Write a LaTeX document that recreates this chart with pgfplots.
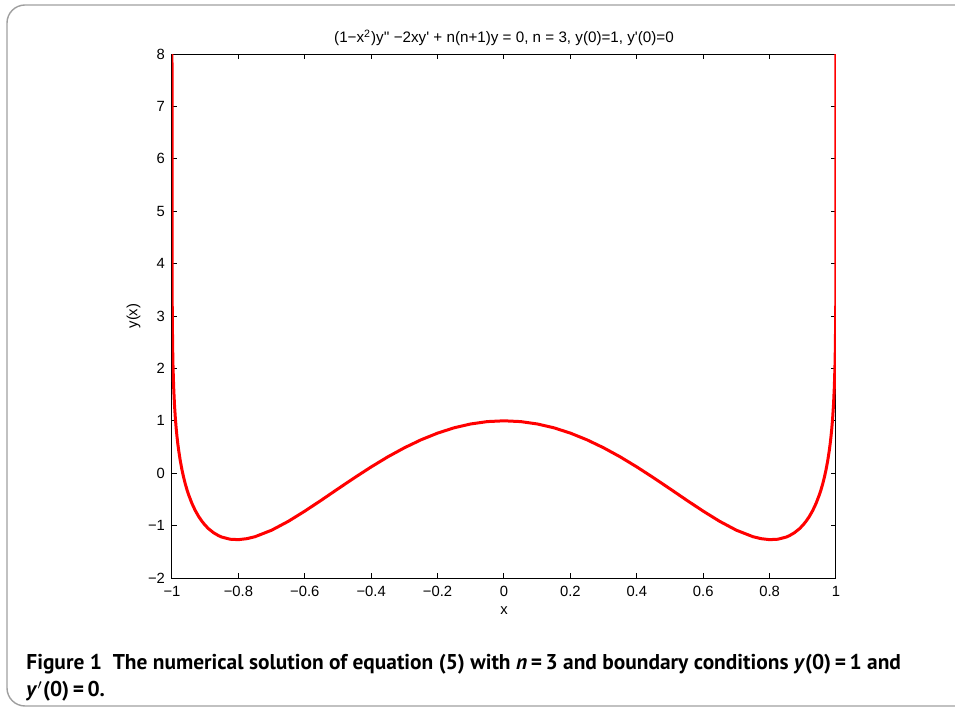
\documentclass[border=0pt]{standalone}
\usepackage{fontspec}
\setmainfont{Liberation Sans}[Ligatures=TeXOff]
\newfontfamily\capfont{PT Sans}
\usepackage{pgfplots}
\pgfplotsset{compat=1.18}
\begin{document}
\begin{tikzpicture}[x=1pt,y=1pt]
\useasboundingbox (0,0) rectangle (477.5,354);
\begin{scope}
\clip (0,0) rectangle (477.5,354);
\draw[gray!75, line width=0.7pt, rounded corners=9pt] (3.5,1) rectangle (495,351.5);
\end{scope}
\begin{axis}[
  at={(86pt,65pt)}, anchor=south west,
  scale only axis, width=332pt, height=262pt,
  xmin=-1, xmax=1, ymin=-2, ymax=8,
  xtick={-1,-0.8,-0.6,-0.4,-0.2,0,0.2,0.4,0.6,0.8,1},
  xticklabels={−1,−0.8,−0.6,−0.4,−0.2,0,0.2,0.4,0.6,0.8,1},
  ytick={-2,-1,0,1,2,3,4,5,6,7,8},
  yticklabels={−2,−1,0,1,2,3,4,5,6,7,8},
  tick align=inside, major tick length=2.5pt,
  xtick pos=both, ytick pos=both,
  axis line style={line width=0.5pt},
  every tick/.style={black, line width=0.5pt},
  tick label style={font=\fontsize{7.4}{9}\selectfont},
  xticklabel style={yshift=-0.5pt},
  xlabel={x}, ylabel={y(x)},
  every axis x label/.style={at={(axis description cs:0.5,-0.063)}, anchor=center, font=\fontsize{7.4}{9}\selectfont},
  every axis y label/.style={at={(axis description cs:-0.058,0.5)}, rotate=90, anchor=center, font=\fontsize{7.4}{9}\selectfont},
  title={(1−x\textsuperscript{2})y'' −2xy' + n(n+1)y = 0, n = 3, y(0)=1, y'(0)=0},
  every axis title/.style={font=\fontsize{7.6}{9}\selectfont, at={(axis description cs:0.5,1.031)}, anchor=center},
  clip=true,
]
\addplot[red, line width=1.5pt, line join=round] coordinates {
(-0.999999,8.131) (-0.99999,6.404) (-0.9999,4.674) (-0.9995,3.455) (-0.999,2.924)
(-0.998,2.383) (-0.997,2.061) (-0.995,1.645) (-0.9925,1.306) (-0.99,1.059)
(-0.9875,0.864) (-0.985,0.702) (-0.9825,0.563) (-0.98,0.442) (-0.975,0.236)
(-0.97,0.066) (-0.965,-0.078) (-0.96,-0.203) (-0.955,-0.313) (-0.95,-0.410)
(-0.94,-0.576) (-0.93,-0.711) (-0.92,-0.823) (-0.91,-0.916) (-0.9,-0.994)
(-0.89,-1.059) (-0.875,-1.135) (-0.86,-1.191) (-0.85,-1.219) (-0.825,-1.260)
(-0.8,-1.268) (-0.775,-1.250)
(-0.75,-1.212) (-0.7,-1.088) (-0.65,-0.920) (-0.6,-0.724) (-0.55,-0.514)
(-0.5,-0.298) (-0.45,-0.085) (-0.4,0.120) (-0.35,0.312) (-0.3,0.485)
(-0.25,0.637) (-0.2,0.765) (-0.15,0.867) (-0.1,0.940) (-0.05,0.985)
(0,1)
(0.05,0.985) (0.1,0.940) (0.15,0.867) (0.2,0.765) (0.25,0.637)
(0.3,0.485) (0.35,0.312) (0.4,0.120) (0.45,-0.085) (0.5,-0.298)
(0.55,-0.514) (0.6,-0.724) (0.65,-0.920) (0.7,-1.088) (0.75,-1.212)
(0.775,-1.250) (0.8,-1.268)
(0.825,-1.260) (0.85,-1.219) (0.86,-1.191) (0.875,-1.135) (0.89,-1.059)
(0.9,-0.994) (0.91,-0.916) (0.92,-0.823) (0.93,-0.711) (0.94,-0.576)
(0.95,-0.410) (0.955,-0.313) (0.96,-0.203) (0.965,-0.078) (0.97,0.066)
(0.975,0.236) (0.98,0.442) (0.9825,0.563) (0.985,0.702) (0.9875,0.864)
(0.99,1.059) (0.9925,1.306) (0.995,1.645) (0.997,2.061) (0.998,2.383)
(0.999,2.924) (0.9995,3.455) (0.9999,4.674) (0.99999,6.404) (0.999999,8.131)
};
\end{axis}
\node[anchor=base west, inner sep=0pt, font=\capfont\bfseries\fontsize{10.7}{12}\selectfont] at (13,19)
  {Figure 1\ \ The numerical solution of equation (5) with \textit{n}\,=\,3 and boundary conditions \textit{y}(0)\,=\,1 and};
\node[anchor=base west, inner sep=0pt, font=\capfont\bfseries\fontsize{10.7}{12}\selectfont] at (13,5.5)
  {\textit{y}$'$(0)\,=\,0.};
\end{tikzpicture}
\end{document}
